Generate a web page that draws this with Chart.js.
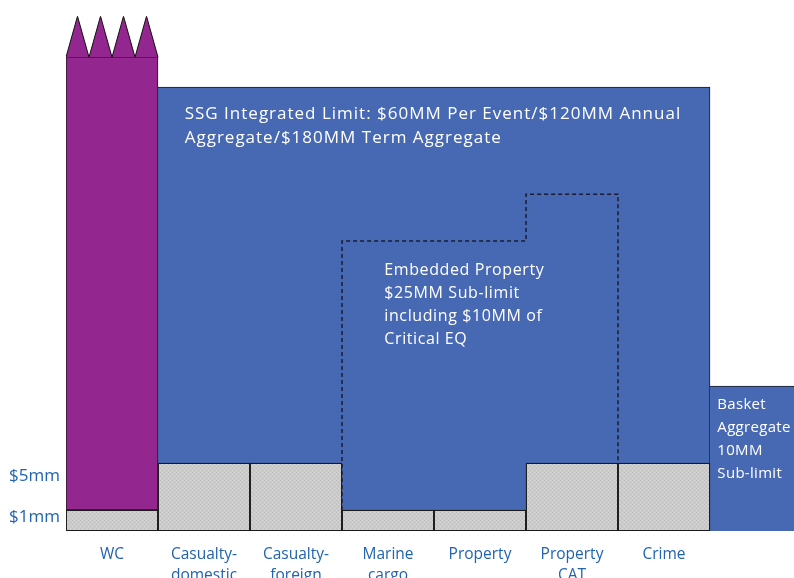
<!DOCTYPE html>
<html>
<head>
<meta charset="utf-8">
<script src="https://cdn.jsdelivr.net/npm/chart.js@4/dist/chart.umd.min.js"></script>
<style>
  body { margin: 0; background: #fff; overflow: hidden; }
  .wrap { position: relative; width: 802px; height: 578px; }
</style>
</head>
<body>
<div class="wrap"><canvas id="myChart"></canvas></div>
<script>
// categories (last slot = basket aggregate, cut off at the right)
const categories = ['WC', ['Casualty-', 'domestic'], ['Casualty-', 'foreign'], ['Marine', 'cargo'], 'Property', ['Property', 'CAT'], 'Crime', ''];

// schematic heights (diagram units, not to scale)
const retention = [21, 68, 68, 21, 21, 68, 68, 0];
const wcTop = 474;
const wcSpikeTop = 515;
const integratedTop = 444;
const basketTop = 145;

// y tick labels
const yTickValues = [14, 55];
const yTickLabels = ['$1mm', '$5mm'];

// embedded property sub-limit outline (slot units / diagram units)
const embeddedX = [2.5, 2.5, 4.5, 4.5, 5.5, 5.5];
const embeddedY = [21, 290, 290, 337, 337, 68];

// WC "unlimited" spikes
const spikeX = [-0.5, -0.375, -0.25, -0.125, 0, 0.125, 0.25, 0.375, 0.5];
const spikeY = [wcTop, wcSpikeTop, wcTop, wcSpikeTop, wcTop, wcSpikeTop, wcTop, wcSpikeTop, wcTop];

const notes = [
  { x: 0.79, y: 417, size: 17, gap: 24, spacing: 1, lines: ['SSG Integrated Limit: $60MM Per Event/$120MM Annual', 'Aggregate/$180MM Term Aggregate'] },
  { x: 2.96, y: 261, size: 16, gap: 23, spacing: 0.6, lines: ['Embedded Property', '$25MM Sub-limit', 'including $10MM of', 'Critical EQ'] },
  { x: 6.58, y: 126, size: 15, gap: 23, spacing: 0.3, lines: ['Basket', 'Aggregate', '10MM', 'Sub-limit'] }
];

const BLUE = '#4768b2';
const PURPLE = '#93278f';
const LABEL = '#2064b0';
const FONT = '"Open Sans", "Noto Sans", sans-serif';

// stippled gray like the print
function grayPattern() {
  const p = document.createElement('canvas');
  p.width = 4; p.height = 4;
  const g = p.getContext('2d');
  g.fillStyle = '#cbcbcb';
  g.fillRect(0, 0, 4, 4);
  g.fillStyle = '#bdbdbd';
  g.fillRect(0, 0, 1, 1); g.fillRect(2, 2, 1, 1);
  g.fillStyle = '#d6d6d6';
  g.fillRect(2, 0, 1, 1); g.fillRect(0, 2, 1, 1);
  return g.createPattern(p, 'repeat');
}

const grayData = retention.map(function (v) { return v > 0 ? [0, v] : null; });
const purpleData = categories.map(function (c, i) { return i === 0 ? [retention[0], wcTop] : null; });
const blueData = categories.map(function (c, i) {
  if (i === 0) return null;
  if (i === categories.length - 1) return [0, basketTop];
  return [retention[i], integratedTop];
});

const notesPlugin = {
  id: 'notes',
  afterDatasetsDraw: function (chart) {
    const c = chart.ctx;
    const xs = chart.scales.xl;
    const ys = chart.scales.y;
    c.save();
    c.fillStyle = '#ffffff';
    c.textAlign = 'left';
    c.textBaseline = 'middle';
    notes.forEach(function (n) {
      c.font = n.size + 'px ' + FONT;
      c.letterSpacing = n.spacing + 'px';
      n.lines.forEach(function (line, k) {
        c.fillText(line, xs.getPixelForValue(n.x), ys.getPixelForValue(n.y) + k * n.gap);
      });
    });
    c.restore();
  }
};

const ctx = document.getElementById('myChart').getContext('2d');
const chart = new Chart(ctx, {
  type: 'bar',
  data: {
    labels: categories,
    datasets: [
      {
        type: 'line',
        label: 'Embedded property',
        xAxisID: 'xl',
        data: embeddedX.map(function (x, i) { return { x: x, y: embeddedY[i] }; }),
        borderColor: '#1c1c2c',
        borderWidth: 1.5,
        borderDash: [4, 3],
        pointRadius: 0,
        fill: false,
        tension: 0
      },
      {
        type: 'line',
        label: 'WC spikes',
        xAxisID: 'xl',
        data: spikeX.map(function (x, i) { return { x: x, y: spikeY[i] }; }),
        borderColor: '#111',
        borderWidth: 1,
        backgroundColor: PURPLE,
        pointRadius: 0,
        fill: { value: wcTop },
        tension: 0
      },
      {
        label: 'Retention',
        data: grayData,
        backgroundColor: grayPattern(),
        borderColor: '#1a1a1a',
        borderWidth: 1.3,
        borderSkipped: false,
        grouped: false
      },
      {
        label: 'WC',
        data: purpleData,
        backgroundColor: PURPLE,
        borderColor: '#1a1a1a',
        borderWidth: 1,
        borderSkipped: false,
        grouped: false
      },
      {
        label: 'Integrated limit',
        data: blueData,
        backgroundColor: BLUE,
        borderColor: '#1a1a2a',
        borderWidth: function (c) {
          return { top: 1, left: 0, bottom: 0, right: c.dataIndex === 6 ? 1 : 0 };
        },
        borderSkipped: false,
        grouped: false
      }
    ]
  },
  options: {
    responsive: true,
    maintainAspectRatio: false,
    animation: false,
    barPercentage: 1,
    categoryPercentage: 1,
    layout: { padding: { top: 16, right: 0, left: 0, bottom: 0 } },
    plugins: {
      legend: { display: false },
      tooltip: { enabled: false }
    },
    scales: {
      x: {
        grid: { display: false },
        border: { display: false },
        ticks: {
          color: LABEL,
          font: { family: FONT, size: 15.5, lineHeight: 1.35 },
          padding: 5,
          maxRotation: 0,
          autoSkip: false
        },
        afterFit: function (scale) { scale.height = 47; }
      },
      xl: {
        type: 'linear',
        display: false,
        offset: false,
        min: -0.5,
        max: 7.5
      },
      y: {
        min: 0,
        max: 515,
        grid: { display: false, drawTicks: false },
        border: { display: false },
        afterBuildTicks: function (scale) {
          scale.ticks = yTickValues.map(function (v) { return { value: v }; });
        },
        ticks: {
          color: LABEL,
          font: { family: FONT, size: 17 },
          padding: 6,
          callback: function (v) { return yTickLabels[yTickValues.indexOf(v)]; }
        },
        afterFit: function (scale) { scale.width = 66; }
      }
    }
  },
  plugins: [notesPlugin]
});
</script>
</body>
</html>
